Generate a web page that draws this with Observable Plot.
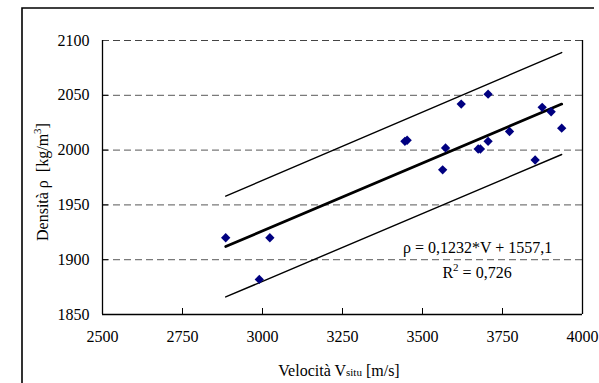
<!DOCTYPE html>
<html><head><meta charset="utf-8">
<script src="https://cdn.jsdelivr.net/npm/d3@7"></script>
<script src="https://cdn.jsdelivr.net/npm/@observablehq/plot@0.6"></script>
<style>
html,body{margin:0;padding:0;background:#fff;overflow:hidden;}
#chart{position:relative;width:599px;height:383px;overflow:hidden;background:#fff;}
#chart svg{display:block;}
#chart svg text{font-family:"Liberation Serif","Times New Roman",Times,serif !important;}
</style>
</head><body><div id="chart"></div>
<script>
// Measured points: velocity (m/s) and density (kg/m3)
const velocity = [2885, 2990, 3023, 3445, 3452, 3563, 3572, 3621, 3674, 3681, 3705, 3705, 3772, 3852, 3874, 3902, 3935];
const density  = [1920, 1882, 1920, 2008, 2009, 1982, 2002, 2042, 2001, 2001, 2051, 2008, 2017, 1991, 2039, 2035, 2020];
// Fit line and band end points
const fitVelocity  = [2885, 3935];
const fitDensity   = [1912, 2042];
const upperDensity = [1958, 2089];
const lowerDensity = [1866, 1996];
// Tick labels
const xTicks = [2500, 2750, 3000, 3250, 3500, 3750, 4000];
const yTicks = [1850, 1900, 1950, 2000, 2050, 2100];
// Texts
const equationText = "ρ = 0,1232*V + 1557,1";
const r2Value = " = 0,726";

const points = velocity.map((v, i) => ({v, rho: density[i]}));
const fit = fitVelocity.map((v, i) => ({v, fit: fitDensity[i], up: upperDensity[i], lo: lowerDensity[i]}));

const W = 599, H = 383, ML = 102, MR = 17, MT = 40, MB = 69;
const frameW = W - ML - MR, frameH = H - MT - MB;
const serif = "Liberation Serif, Times New Roman, serif";

const plot = Plot.plot({
  width: W, height: H,
  marginLeft: ML, marginRight: MR, marginTop: MT, marginBottom: MB,
  x: {domain: [2500, 4000], axis: null},
  y: {domain: [1850, 2100], axis: null},
  style: {fontFamily: serif, fontSize: "16px", background: "white", color: "#000", overflow: "visible"},
  marks: [
    Plot.ruleY(yTicks.filter(d => d > 1850 && d < 2100), {y: d => d, stroke: "#7a7a7a", strokeWidth: 1.2, strokeDasharray: "7,4"}),
    Plot.ruleY([2100], {y: d => d, stroke: "#444", strokeWidth: 1.2, strokeDasharray: "7,4"}),
    Plot.ruleX([2500, 4000], {x: d => d, stroke: "#000", strokeWidth: 1.3}),
    Plot.ruleY([1850], {y: d => d, stroke: "#000", strokeWidth: 1.3}),
    Plot.ruleX(xTicks.slice(1, -1), {x: d => d, insetTop: frameH - 6, stroke: "#000", strokeWidth: 1}),
    Plot.ruleY(yTicks.slice(1, -1), {y: d => d, insetRight: frameW - 6, stroke: "#000", strokeWidth: 1}),
    Plot.text(xTicks, {x: d => d, frameAnchor: "bottom", dy: 27, text: d => String(d), fill: "#000", fontFamily: serif}),
    Plot.text(yTicks, {y: d => d, frameAnchor: "left", dx: -13, textAnchor: "end", text: d => String(d), fill: "#000", fontFamily: serif}),
    Plot.line(fit, {x: "v", y: "up", stroke: "#000", strokeWidth: 1.4}),
    Plot.line(fit, {x: "v", y: "lo", stroke: "#000", strokeWidth: 1.4}),
    Plot.line(fit, {x: "v", y: "fit", stroke: "#000", strokeWidth: 2.7}),
    Plot.dot(points, {x: "v", y: "rho", symbol: "diamond2", r: 4.2, fill: "#000080", stroke: "none"}),
    Plot.text([equationText], {x: 3672, y: 1911, text: d => d, fill: "#000", fontFamily: serif})
  ]
});

document.getElementById("chart").appendChild(plot);
const svg = d3.select(plot);
const sx = plot.scale("x"), sy = plot.scale("y");
// outer chart frame
svg.append("path").attr("d", `M22,${H} V8 H594`).attr("fill", "none").attr("stroke", "#000").attr("stroke-width", 1.6);

function label(x, y, rotate, anchor) {
  return svg.append("text")
    .attr("transform", `translate(${x},${y})` + (rotate ? ` rotate(${rotate})` : ""))
    .attr("text-anchor", anchor).attr("fill", "#000")
    .attr("font-family", serif).style("font-size", "16px");
}
// x-axis title with small "situ"
const xt = label(ML + frameW / 2 - 3, 376, 0, "middle");
xt.append("tspan").text("Velocità V");
xt.append("tspan").style("font-size", "11px").text("situ");
xt.append("tspan").text(" [m/s]");
// y-axis title with superscript 3 (reads bottom to top, starting near the 1900 line)
const yt = label(48, 241, -90, "start");
yt.append("tspan").text("Densità ρ\u00a0\u00a0[kg/m");
yt.append("tspan").attr("dy", -7).style("font-size", "11px").text("3");
yt.append("tspan").attr("dy", 7).text("]");
// R² annotation
const r2 = label(sx.apply(3672), sy.apply(1887) + 5, 0, "middle");
r2.append("tspan").text("R");
r2.append("tspan").attr("dy", -7).style("font-size", "11px").text("2");
r2.append("tspan").attr("dy", 7).text(r2Value);
</script>
</body></html>
